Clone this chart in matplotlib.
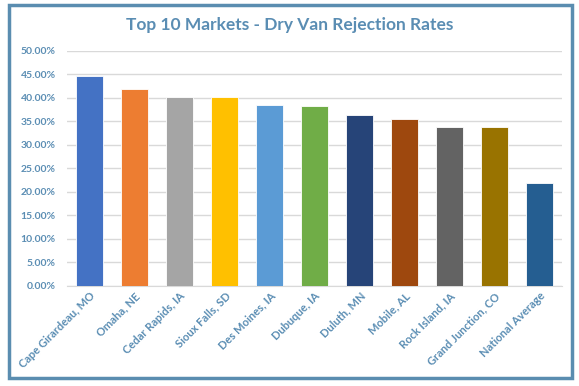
import matplotlib.pyplot as plt
from matplotlib.patches import Rectangle
from matplotlib.ticker import PercentFormatter

# --- data ---
markets = ['Cape Girardeau, MO', 'Omaha, NE', 'Cedar Rapids, IA', 'Sioux Falls, SD',
           'Des Moines, IA', 'Dubuque, IA', 'Duluth, MN', 'Mobile, AL',
           'Rock Island, IA', 'Grand Junction, CO', 'National Average']
rates = [44.7, 41.8, 40.1, 40.1, 38.4, 38.2, 36.3, 35.5, 33.8, 33.8, 21.8]
bar_colors = ['#4472C4', '#ED7D31', '#A5A5A5', '#FFC000', '#5B9BD5', '#70AD47',
              '#264478', '#9E480E', '#636363', '#997300', '#255E91']

text_color = '#5A8DB3'
plt.rcParams['font.family'] = ['Lato', 'DejaVu Sans']

W, H = 579, 386
fig = plt.figure(figsize=(W / 100, H / 100), dpi=100)
ax = fig.add_axes([67 / W, 1 - 285.5 / H, (562 - 67) / W, (285.5 - 51) / H])

x = range(len(markets))
ax.bar(x, rates, width=0.58, color=bar_colors, edgecolor='white', linewidth=0.6, zorder=3)

ax.set_ylim(0, 50)
ax.set_xlim(-0.5, len(markets) - 0.5)
ax.set_yticks(range(0, 51, 5))
ax.yaxis.set_major_formatter(PercentFormatter(decimals=2))
ax.grid(axis='y', color='#D9D9D9', linewidth=1, zorder=0)
for s in ['top', 'right', 'left']:
    ax.spines[s].set_visible(False)
ax.spines['bottom'].set_color('#D9D9D9')
ax.tick_params(axis='both', length=0, colors=text_color, labelsize=7.5)
ax.tick_params(axis='y', pad=8)
ax.tick_params(axis='x', labelsize=8)
ax.set_xticks(list(x))
ax.set_xticklabels(markets, rotation=45, ha='right', rotation_mode='anchor', fontweight='bold')
for lbl in ax.get_yticklabels():
    lbl.set_fontweight('bold')

fig.text(0.5, 1 - 25 / H, 'Top 10 Markets - Dry Van Rejection Rates', ha='center', va='center',
         fontsize=12.5, fontweight='bold', color=text_color)

# outer frame
fig.patches.append(Rectangle((9 / W, 1 - 378 / H), (572 - 9) / W, (378 - 5) / H,
                             transform=fig.transFigure, fill=False,
                             edgecolor='#5A8DB0', linewidth=2.5))

fig.savefig('out.png', dpi=100)
